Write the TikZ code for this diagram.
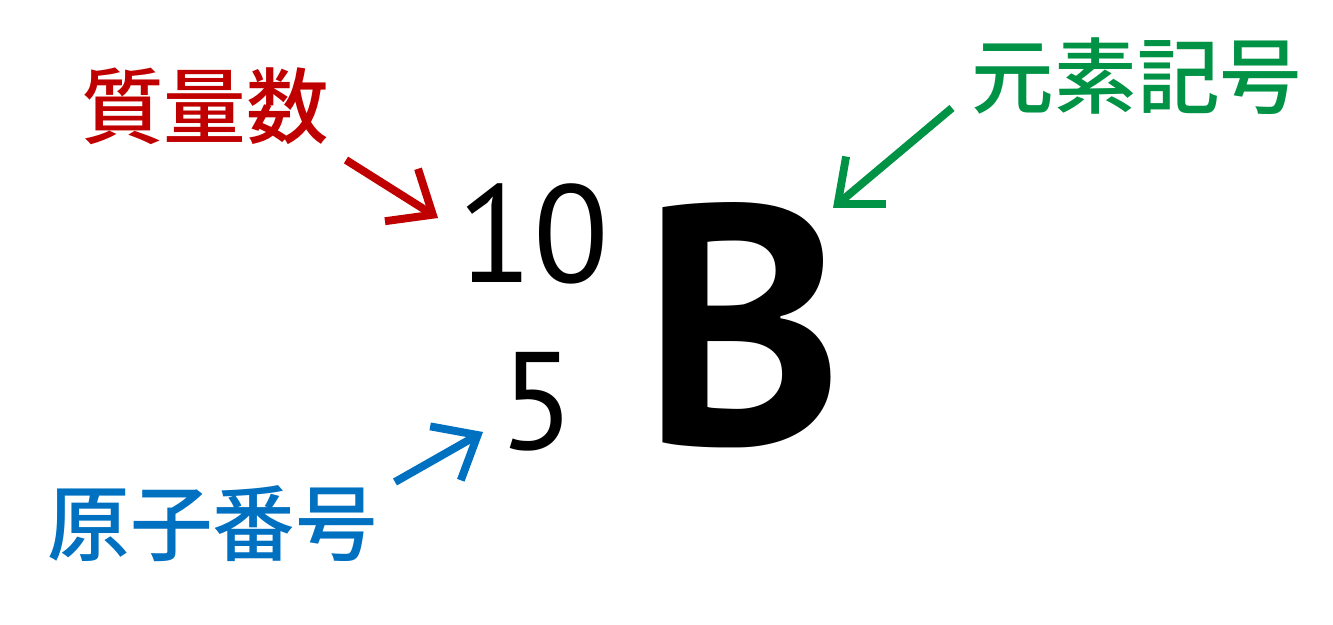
\documentclass[tikz,border=0pt]{standalone}
\usepackage{fontspec}
\setmainfont{PT Sans}
\newfontfamily\jpfont{Noto Sans CJK JP}[UprightFont=* Medium]
\usetikzlibrary{arrows.meta}
\definecolor{massred}{RGB}{192,0,0}
\definecolor{symbolgreen}{RGB}{0,146,69}
\definecolor{numberblue}{RGB}{0,112,192}

\begin{document}
\begin{tikzpicture}[x=0.02cm, y=-0.02cm,
    term/.style={inner sep=0pt, font=\jpfont\fontsize{47}{50}\selectfont},
    digits/.style={inner sep=0pt, font=\fontsize{79}{84}\selectfont},
    pointer/.style={line width=4.5pt, -{Straight Barb[length=0.74cm, width=1.24cm, sharp]}}]
    % Canvas
    \useasboundingbox (0,0) rectangle (1333,625);

    % Element symbol with mass number and atomic number
    \node[inner sep=0pt, font=\bfseries\fontsize{194}{200}\selectfont] (B) at (743,325) {B};
    \node[digits] (ten) at (533,234) {10};
    \node[digits] (five) at (537,402) {5};

    % Labels
    \node[term, massred] (mass) at (205,106) {質量数};
    \node[term, symbolgreen] (symbol) at (1137,76) {元素記号};
    \node[term, numberblue] (number) at (213,524) {原子番号};

    % Arrows
    \coordinate (massfrom) at (346,160);
    \coordinate (massto) at (438,218);
    \coordinate (symbolfrom) at (952,108);
    \coordinate (symbolto) at (833,208);
    \coordinate (numberfrom) at (395,482);
    \coordinate (numberto) at (483,432);
    \draw[pointer, massred] (massfrom) -- (massto);
    \draw[pointer, symbolgreen] (symbolfrom) -- (symbolto);
    \draw[pointer, numberblue] (numberfrom) -- (numberto);
\end{tikzpicture}
\end{document}
